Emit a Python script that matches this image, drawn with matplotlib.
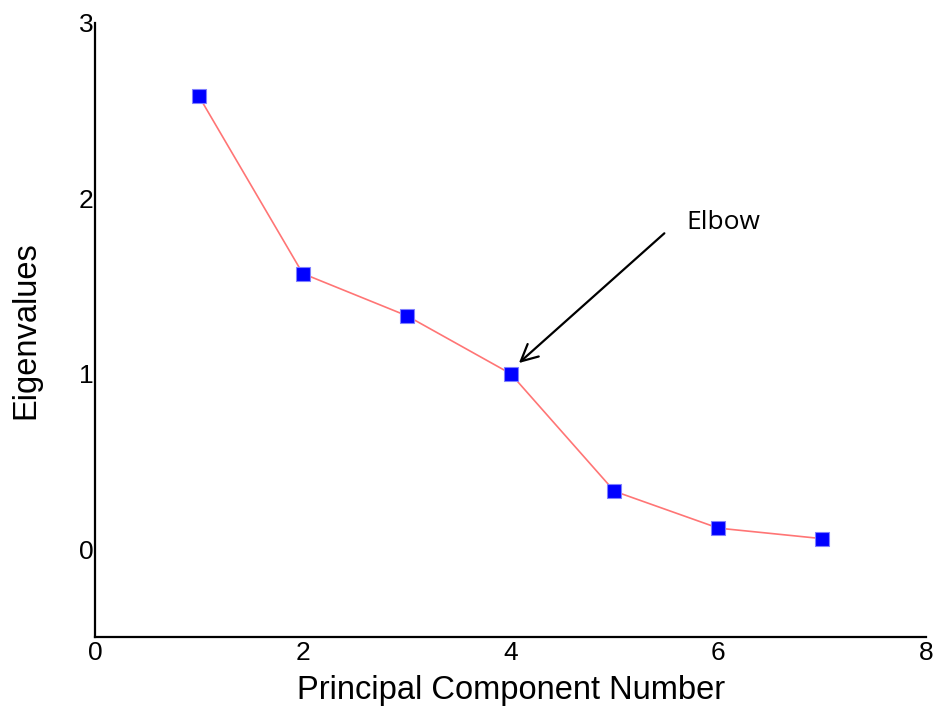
import numpy as np
import matplotlib.pyplot as plt

components = [1, 2, 3, 4, 5, 6, 7]
eigenvalues = [2.58, 1.57, 1.33, 1.00, 0.33, 0.12, 0.06]
x_ticks = [0, 2, 4, 6, 8]
y_ticks = [0, 1, 2, 3]

plt.rcParams["font.family"] = ["Liberation Sans", "DejaVu Sans"]

fig = plt.figure(figsize=(9.36, 7.17), dpi=100)
ax = fig.add_axes([0.1015, 0.1116, 0.888, 0.857])

ax.plot(components, eigenvalues, color="#ff7575", linewidth=1.2, zorder=2)
ax.plot(
    components,
    eigenvalues,
    linestyle="none",
    marker="s",
    markersize=10,
    markerfacecolor="#0000ff",
    markeredgecolor="#8080ff",
    markeredgewidth=0.8,
    zorder=3,
)

ax.annotate(
    "",
    xy=(4.06, 1.05),
    xytext=(5.5, 1.81),
    arrowprops=dict(arrowstyle="->", color="black", lw=1.6, mutation_scale=30),
)
ax.text(5.69, 1.86, "Elbow", fontsize=19, family=["Open Sans", "DejaVu Sans"],
        va="center", ha="left")

ax.set_xlim(0, 8)
ax.set_ylim(-0.5, 3)
ax.set_xticks(x_ticks)
ax.set_yticks(y_ticks)
ax.tick_params(axis="both", length=0, labelsize=19)
ax.tick_params(axis="x", pad=3)
ax.tick_params(axis="y", pad=1)

for side in ("top", "right"):
    ax.spines[side].set_visible(False)
for side in ("left", "bottom"):
    ax.spines[side].set_linewidth(1.6)

ax.set_xlabel("Principal Component Number", fontsize=23.5)
ax.set_ylabel("Eigenvalues", fontsize=23.5)
ax.xaxis.set_label_coords(0.5, -0.062)
ax.yaxis.set_label_coords(-0.064, 0.5)

fig.savefig("out.png", dpi=100)
plt.close(fig)
